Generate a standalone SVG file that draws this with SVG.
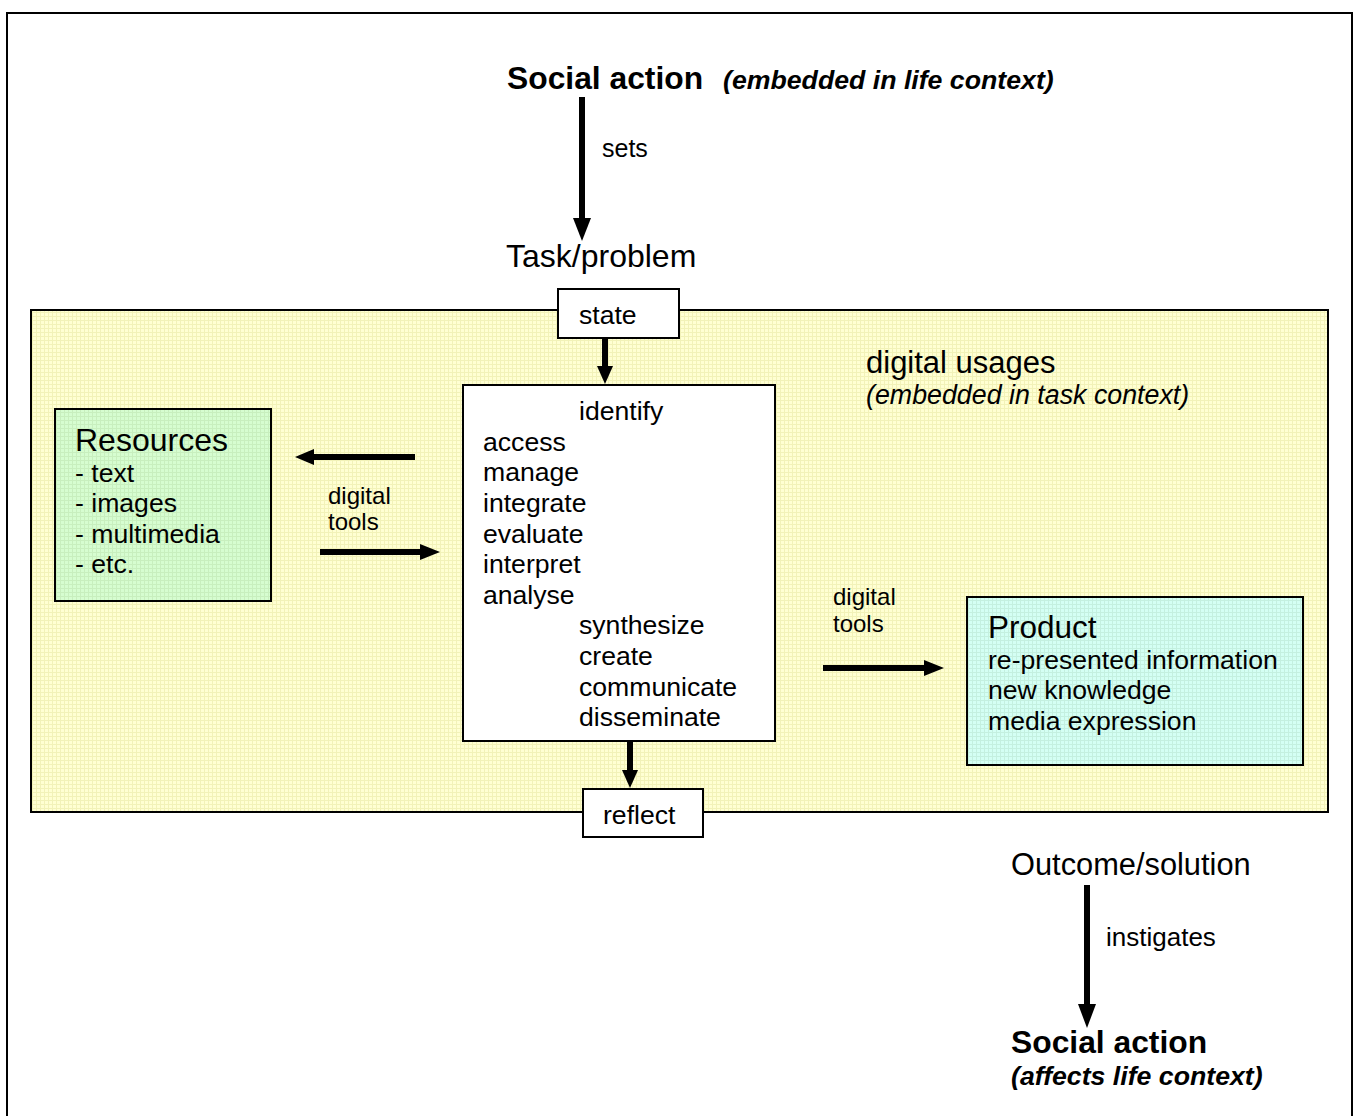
<svg xmlns="http://www.w3.org/2000/svg" width="1357" height="1116" viewBox="0 0 1357 1116">
<defs>
<style>
text{font-family:"Liberation Sans",Arial,sans-serif;fill:#000}
.t{font-size:32px}
.b{font-size:31.8px;font-weight:bold}
.bi{font-size:26.7px;font-weight:bold;font-style:italic}
.i{font-size:26.8px;font-style:italic}
.n{font-size:26.6px}
.l{font-size:24px}
.box{stroke:#000;stroke-width:2}
.line{stroke:#000;stroke-width:6;fill:none}
.head{fill:#000}
</style>
<pattern id="py" width="4" height="4" patternUnits="userSpaceOnUse"><rect width="4" height="4" fill="#ffffd2"/><path d="M0 0.5H4M0.5 0V4" stroke="#f2f2b8" stroke-width="1"/></pattern>
<pattern id="pg" width="4" height="4" patternUnits="userSpaceOnUse"><rect width="4" height="4" fill="#d6fdd0"/><path d="M0 0.5H4M0.5 0V4" stroke="#c8efbe" stroke-width="1"/></pattern>
<pattern id="pc" width="4" height="4" patternUnits="userSpaceOnUse"><rect width="4" height="4" fill="#d4fff4"/><path d="M0 0.5H4M0.5 0V4" stroke="#c4f0e0" stroke-width="1"/></pattern>
</defs>
<rect x="7" y="13" width="1345" height="1120" fill="#fff" stroke="#000" stroke-width="2"/>
<g id="usages">
<rect x="31" y="310" width="1297" height="502" fill="url(#py)" class="box"/>
<text x="866" y="373" class="t" style="font-size:31px">digital usages</text>
<text x="866" y="404" class="i">(embedded in task context)</text>
</g>
<g id="social-top">
<text x="507" y="89" class="b">Social action</text>
<text x="723" y="89" class="bi">(embedded in life context)</text>
</g>
<g id="task"><text x="506" y="267" class="t">Task/problem</text></g>
<g id="state">
<rect x="558" y="289" width="121" height="49" fill="#fff" class="box"/>
<text x="579" y="324" class="n">state</text>
</g>
<g id="main">
<rect x="463" y="385" width="312" height="356" fill="#fff" class="box"/>
<text x="579" y="420" class="n">identify</text>
<text x="483" y="451" class="n">access</text>
<text x="483" y="481" class="n">manage</text>
<text x="483" y="512" class="n">integrate</text>
<text x="483" y="543" class="n">evaluate</text>
<text x="483" y="573" class="n">interpret</text>
<text x="483" y="604" class="n">analyse</text>
<text x="579" y="634" class="n">synthesize</text>
<text x="579" y="665" class="n">create</text>
<text x="579" y="696" class="n">communicate</text>
<text x="579" y="726" class="n">disseminate</text>
</g>
<g id="resources">
<rect x="55" y="409" width="216" height="192" fill="url(#pg)" class="box"/>
<text x="75" y="451" class="t">Resources</text>
<text x="75" y="482" class="n">- text</text>
<text x="75" y="512" class="n">- images</text>
<text x="75" y="543" class="n">- multimedia</text>
<text x="75" y="573" class="n">- etc.</text>
</g>
<g id="product">
<rect x="967" y="597" width="336" height="168" fill="url(#pc)" class="box"/>
<text x="988" y="638" class="t" style="font-size:31.5px">Product</text>
<text x="988" y="669" class="n">re-presented information</text>
<text x="988" y="699" class="n">new knowledge</text>
<text x="988" y="730" class="n">media expression</text>
</g>
<g id="reflect">
<rect x="583" y="789" width="120" height="48" fill="#fff" class="box"/>
<text x="603" y="824" class="n">reflect</text>
</g>
<g id="outcome"><text x="1011" y="875" class="t" style="font-size:30.8px">Outcome/solution</text></g>
<g id="social-bottom">
<text x="1011" y="1053" class="b">Social action</text>
<text x="1011" y="1085" class="bi">(affects life context)</text>
</g>
<g id="connectors">
<line x1="582" y1="97" x2="582" y2="220" class="line"/>
<polygon points="573,218 591,218 582,241" class="head"/>
<text x="602" y="157" class="l" style="font-size:25px">sets</text>
<line x1="605" y1="338" x2="605" y2="368" class="line"/>
<polygon points="597,366 613,366 605,384" class="head"/>
<line x1="630" y1="741" x2="630" y2="772" class="line"/>
<polygon points="622,770 638,770 630,788" class="head"/>
<line x1="415" y1="457" x2="312" y2="457" class="line"/>
<polygon points="314,449 314,465 295,457" class="head"/>
<line x1="320" y1="552" x2="422" y2="552" class="line"/>
<polygon points="420,544 420,560 440,552" class="head"/>
<text x="328" y="504" class="l">digital</text>
<text x="328" y="530" class="l">tools</text>
<line x1="823" y1="668" x2="926" y2="668" class="line"/>
<polygon points="924,660 924,676 944,668" class="head"/>
<text x="833" y="605" class="l">digital</text>
<text x="833" y="632" class="l">tools</text>
<line x1="1087" y1="885" x2="1087" y2="1006" class="line"/>
<polygon points="1078,1004 1096,1004 1087,1028" class="head"/>
<text x="1106" y="946" class="l" style="font-size:26px">instigates</text>
</g>
</svg>
